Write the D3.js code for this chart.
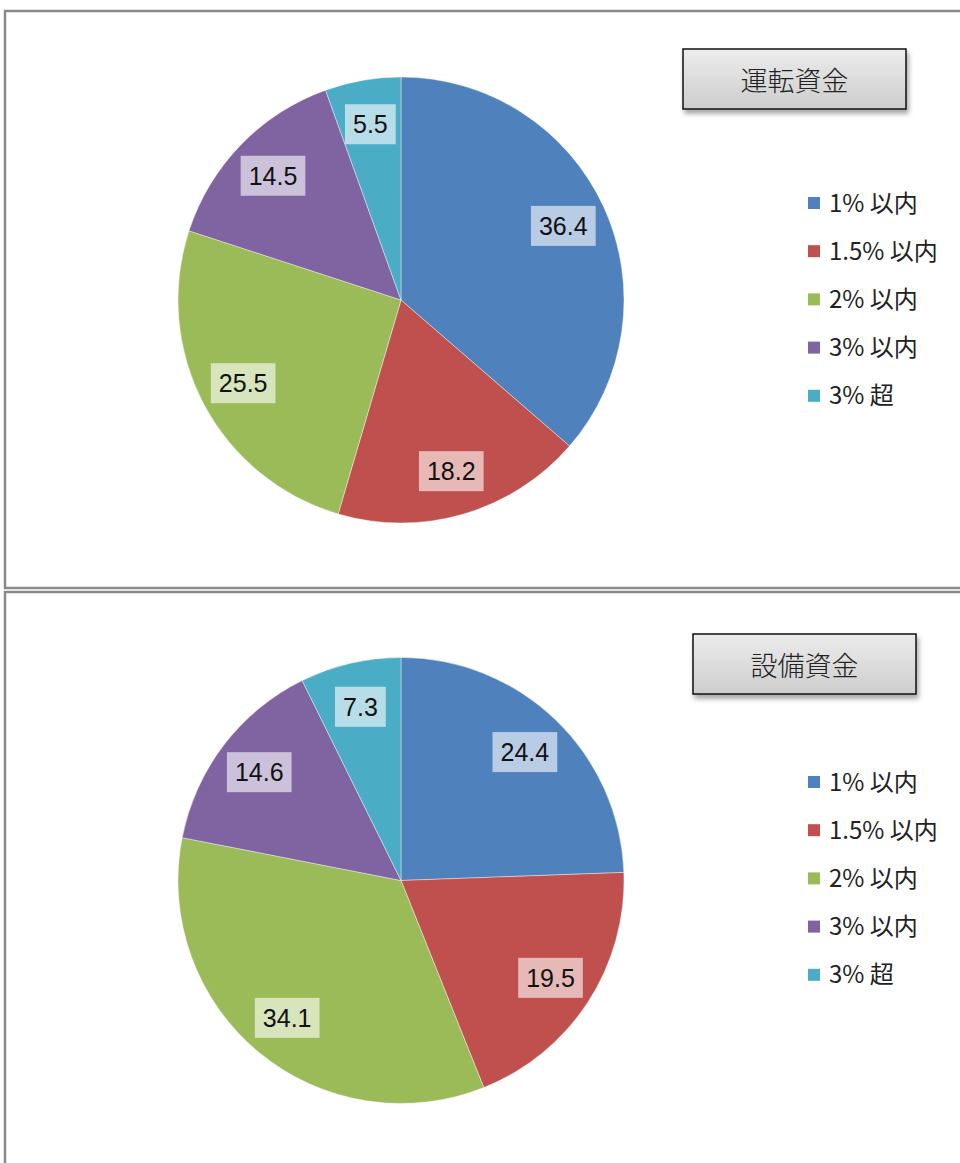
<!DOCTYPE html>
<html>
<head>
<meta charset="utf-8">
<script src="https://cdn.jsdelivr.net/npm/d3@7"></script>
<style>
  html, body { margin: 0; padding: 0; background: #fff; }
  svg { display: block; }
  .lbl { font-family: "Liberation Sans", "DejaVu Sans", sans-serif; font-size: 25px; fill: #111; }
  .leg { font-family: "Noto Sans CJK JP", sans-serif; font-size: 24px; fill: #222; }
  .ttl { font-family: "Noto Sans CJK JP", sans-serif; font-size: 27px; font-weight: 300; fill: #222; }
</style>
</head>
<body>
<svg id="chart" width="960" height="1163"></svg>
<script>
  // categories shared by both pies
  var categories = ["1%以内", "1.5%以内", "2%以内", "3%以内", "3%超"];
  var legendLabels = ["1% 以内", "1.5% 以内", "2% 以内", "3% 以内", "3% 超"];
  var colors = ["#4F81BD", "#C0504D", "#9BBB59", "#8064A2", "#4BACC6"];

  var titles = ["運転資金", "設備資金"];
  var unten = [36.4, 18.2, 25.5, 14.5, 5.5];
  var setsubi = [24.4, 19.5, 34.1, 14.6, 7.3];

  var svg = d3.select("#chart");

  var defs = svg.append("defs");
  var grad = defs.append("linearGradient")
    .attr("id", "boxGrad").attr("x1", 0).attr("y1", 0).attr("x2", 0).attr("y2", 1);
  grad.append("stop").attr("offset", "0%").attr("stop-color", "#ececec");
  grad.append("stop").attr("offset", "100%").attr("stop-color", "#cdcdcd");

  var shadow = defs.append("filter").attr("id", "shadow")
    .attr("x", "-10%").attr("y", "-10%").attr("width", "130%").attr("height", "140%");
  shadow.append("feDropShadow")
    .attr("dx", 2).attr("dy", 4).attr("stdDeviation", 2.5)
    .attr("flood-color", "#000").attr("flood-opacity", 0.35);

  // panel frames
  svg.append("rect")
    .attr("x", 5).attr("y", 11).attr("width", 1000).attr("height", 577)
    .attr("fill", "none").attr("stroke", "#8a8a8a").attr("stroke-width", 2.5);
  svg.append("rect")
    .attr("x", 5).attr("y", 592).attr("width", 1000).attr("height", 700)
    .attr("fill", "none").attr("stroke", "#8a8a8a").attr("stroke-width", 2.5);

  var panels = [
    { values: unten, title: titles[0], cx: 401, cy: 300, box: [683, 49], legY: 203 },
    { values: setsubi, title: titles[1], cx: 401, cy: 880.5, box: [693, 634], legY: 782 }
  ];

  var radius = 223;

  var pie = d3.pie().sort(null).value(function (d) { return d; });
  var arc = d3.arc().innerRadius(0).outerRadius(radius);
  var labelArc = d3.arc().innerRadius(radius * 0.8).outerRadius(radius * 0.8);

  panels.forEach(function (p) {
    var g = svg.append("g").attr("transform", "translate(" + p.cx + "," + p.cy + ")");
    var arcs = pie(p.values);

    g.selectAll("path.slice")
      .data(arcs)
      .enter().append("path")
      .attr("class", "slice")
      .attr("d", arc)
      .attr("fill", function (d, i) { return colors[i]; })
      .attr("stroke", "#fff")
      .attr("stroke-opacity", 0.5)
      .attr("stroke-width", 0.8);

    var lab = g.selectAll("g.lab")
      .data(arcs)
      .enter().append("g")
      .attr("class", "lab")
      .attr("transform", function (d) { return "translate(" + labelArc.centroid(d) + ")"; });

    lab.append("text")
      .attr("class", "lbl")
      .attr("text-anchor", "middle")
      .attr("dy", "0.36em")
      .text(function (d) { return d.data.toFixed(1); });

    lab.each(function () {
      var t = d3.select(this).select("text");
      var bb = t.node().getBBox();
      d3.select(this).insert("rect", "text")
        .attr("x", bb.x - 8).attr("y", -20)
        .attr("width", bb.width + 16).attr("height", 40)
        .attr("fill", "#fff").attr("fill-opacity", 0.6);
    });

    // title box
    var tb = svg.append("g").attr("transform", "translate(" + p.box[0] + "," + p.box[1] + ")");
    tb.append("rect")
      .attr("width", 223).attr("height", 60)
      .attr("fill", "url(#boxGrad)")
      .attr("stroke", "#111").attr("stroke-width", 1.5)
      .attr("filter", "url(#shadow)");
    tb.append("text")
      .attr("class", "ttl")
      .attr("x", 111.5).attr("y", 32)
      .attr("text-anchor", "middle")
      .attr("dy", "0.36em")
      .text(p.title);

    // legend
    var leg = svg.append("g").attr("transform", "translate(808," + p.legY + ")");
    var items = leg.selectAll("g.item")
      .data(categories)
      .enter().append("g")
      .attr("class", "item")
      .attr("transform", function (d, i) { return "translate(0," + (i * 48.2) + ")"; });
    items.append("rect")
      .attr("x", 0).attr("y", -6).attr("width", 12).attr("height", 12)
      .attr("fill", function (d, i) { return colors[i]; });
    items.append("text")
      .attr("class", "leg")
      .attr("x", 21).attr("dy", "0.36em")
      .text(function (d, i) { return legendLabels[i]; });
  });
</script>
</body>
</html>
